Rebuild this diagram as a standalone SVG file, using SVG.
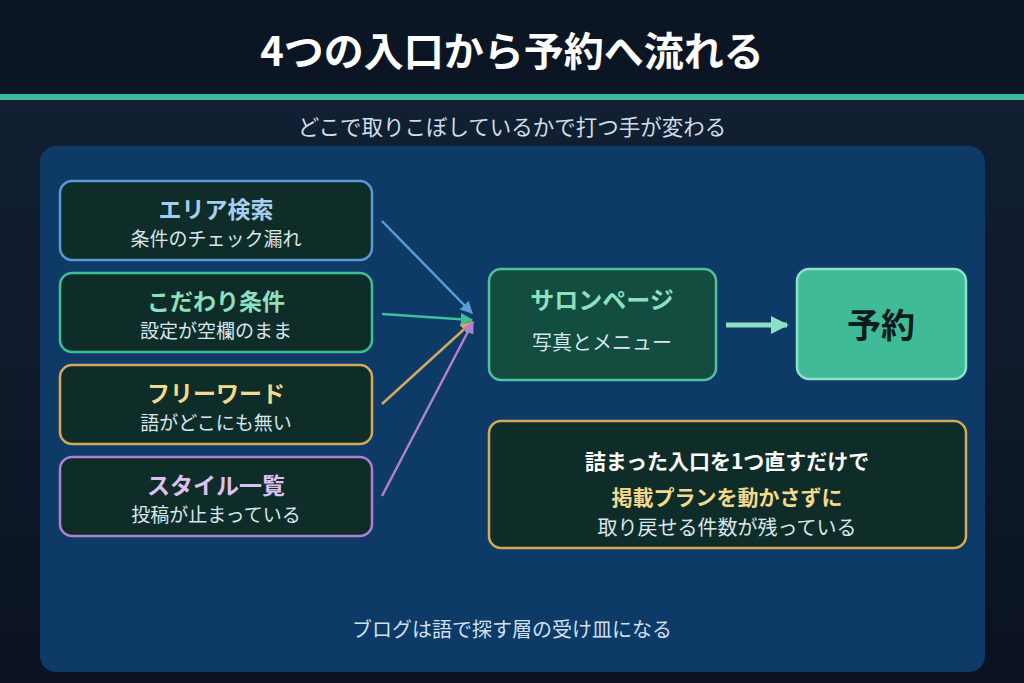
<svg xmlns="http://www.w3.org/2000/svg" width="1024" height="683" viewBox="0 0 1024 683">
<defs>
<linearGradient id="bg" x1="0" y1="0" x2="0" y2="1">
<stop offset="0" stop-color="#132236"/>
<stop offset="1" stop-color="#0a1220"/>
</linearGradient>
<marker id="mb" viewBox="0 0 10 10" refX="9" refY="5" markerWidth="5" markerHeight="5" orient="auto"><path d="M0,0 L10,5 L0,10 Z" fill="#5b9bd5"/></marker>
<marker id="mt" viewBox="0 0 10 10" refX="9" refY="5" markerWidth="5" markerHeight="5" orient="auto"><path d="M0,0 L10,5 L0,10 Z" fill="#3dbf9a"/></marker>
<marker id="mg" viewBox="0 0 10 10" refX="9" refY="5" markerWidth="5" markerHeight="5" orient="auto"><path d="M0,0 L10,5 L0,10 Z" fill="#d4aa5a"/></marker>
<marker id="mp" viewBox="0 0 10 10" refX="9" refY="5" markerWidth="5" markerHeight="5" orient="auto"><path d="M0,0 L10,5 L0,10 Z" fill="#b07fd0"/></marker>
<marker id="mm" viewBox="0 0 10 10" refX="9" refY="5" markerWidth="3.6" markerHeight="3.6" orient="auto"><path d="M0,0 L10,5 L0,10 Z" fill="#8de0c4"/></marker>
</defs>
<style>
text{font-family:"Noto Sans CJK JP","Noto Sans",sans-serif;text-anchor:middle}
.box{fill:#0f2d28;stroke-width:2.5}
.h{font-size:23px;font-weight:700}
.s{font-size:19px;fill:#d8e6ee}
</style>
<rect width="1024" height="683" fill="url(#bg)"/>
<rect width="1024" height="95" fill="#0b1524"/>
<rect y="94" width="1024" height="6" fill="#3fb89a"/>
<text x="512" y="66" font-size="40" font-weight="700" fill="#ffffff">4つの入口から予約へ流れる</text>
<text x="512" y="135" font-size="21.5" fill="#d0dde8">どこで取りこぼしているかで打つ手が変わる</text>
<rect x="40" y="146" width="945" height="526" rx="16" fill="#0d3a66"/>
<g id="connectors" fill="none">
<line x1="382" y1="221" x2="472" y2="313" stroke="#5b9bd5" stroke-width="2.5" marker-end="url(#mb)"/>
<line x1="382" y1="314" x2="472" y2="320" stroke="#3dbf9a" stroke-width="2.5" marker-end="url(#mt)"/>
<line x1="382" y1="404" x2="472" y2="322" stroke="#d4aa5a" stroke-width="2.5" marker-end="url(#mg)"/>
<line x1="382" y1="496" x2="473" y2="322" stroke="#b07fd0" stroke-width="2.5" marker-end="url(#mp)"/>
<line x1="726" y1="325" x2="787" y2="325" stroke="#8de0c4" stroke-width="5" marker-end="url(#mm)"/>
</g>
<g id="n-area">
<rect class="box" x="60" y="181" width="312" height="79" rx="12" stroke="#5b9bd5"/>
<text class="h" x="216" y="218" fill="#a8cdf0">エリア検索</text>
<text class="s" x="216" y="246">条件のチェック漏れ</text>
</g>
<g id="n-kodawari">
<rect class="box" x="60" y="273" width="312" height="79" rx="12" stroke="#3dbf9a"/>
<text class="h" x="216" y="310" fill="#8de0c0">こだわり条件</text>
<text class="s" x="216" y="338">設定が空欄のまま</text>
</g>
<g id="n-free">
<rect class="box" x="60" y="365" width="312" height="79" rx="12" stroke="#d4aa5a"/>
<text class="h" x="216" y="402" fill="#f5d98a">フリーワード</text>
<text class="s" x="216" y="430">語がどこにも無い</text>
</g>
<g id="n-style">
<rect class="box" x="60" y="457" width="312" height="79" rx="12" stroke="#b07fd0"/>
<text class="h" x="216" y="494" fill="#dcc0f0">スタイル一覧</text>
<text class="s" x="216" y="522">投稿が止まっている</text>
</g>
<g id="n-salon">
<rect x="489" y="269" width="227" height="111" rx="12" fill="#124d40" stroke="#4fc2a0" stroke-width="2.5"/>
<text class="h" x="602" y="309" fill="#8de0c0" style="font-size:24px">サロンページ</text>
<text class="s" x="602" y="350" style="font-size:20px">写真とメニュー</text>
</g>
<g id="n-yoyaku">
<rect x="797" y="269" width="169" height="110" rx="12" fill="#3fbb98" stroke="#8de0c4" stroke-width="2.5"/>
<text x="881" y="338" font-size="34" font-weight="700" fill="#0b1a1c">予約</text>
</g>
<g id="n-note">
<rect class="box" x="489" y="421" width="477" height="127" rx="12" stroke="#d4aa5a" stroke-width="2"/>
<text x="727" y="469" font-size="21" font-weight="700" fill="#ffffff">詰まった入口を1つ直すだけで</text>
<text x="727" y="505" font-size="21" font-weight="700" fill="#f5d98a">掲載プランを動かさずに</text>
<text x="727" y="535" font-size="20" fill="#d8e6ee">取り戻せる件数が残っている</text>
</g>
<text x="512" y="637" font-size="20" fill="#cfe0ee">ブログは語で探す層の受け皿になる</text>
</svg>
